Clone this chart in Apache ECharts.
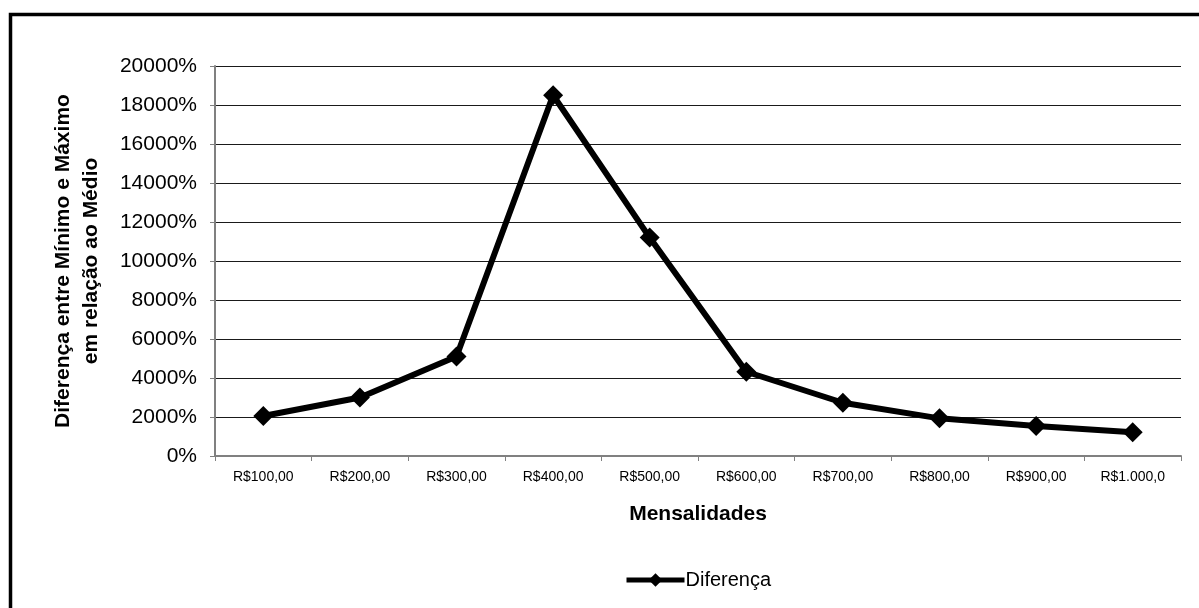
<!DOCTYPE html>
<html>
<head>
<meta charset="utf-8">
<script src="https://cdn.jsdelivr.net/npm/echarts@6/dist/echarts.min.js"></script>
<style>
  html, body { margin: 0; padding: 0; background: #fff; }
  #chart { width: 1199px; height: 608px; }
</style>
</head>
<body>
<div id="chart"></div>
<script>
// Monthly fee brackets
const mensalidades = ['R$100,00', 'R$200,00', 'R$300,00', 'R$400,00', 'R$500,00',
                      'R$600,00', 'R$700,00', 'R$800,00', 'R$900,00', 'R$1.000,0'];
// Spread between minimum and maximum relative to the average (percent)
const diferenca = [2050, 3000, 5100, 18500, 11200, 4320, 2730, 1930, 1540, 1215];

const FONT = "'Liberation Sans', Arial, Helvetica, sans-serif";

const chart = echarts.init(document.getElementById('chart'), null, { renderer: 'canvas' });

chart.setOption({
  backgroundColor: '#ffffff',
  animation: false,
  textStyle: { fontFamily: FONT, color: '#000' },
  graphic: [
    {
      type: 'rect',
      shape: { x: 10.5, y: 14.5, width: 2000, height: 2000 },
      style: { fill: 'none', stroke: '#000', lineWidth: 3.5 },
      silent: true
    }
  ],
  grid: { left: 215, right: 18, top: 66, bottom: 152 },
  legend: {
    data: ['Diferença'],
    left: 619,
    top: 565,
    itemWidth: 58,
    itemHeight: 17,
    itemGap: 10,
    lineStyle: { width: 5, color: '#000' },
    textStyle: { fontFamily: FONT, fontSize: 20, color: '#000', padding: [0, 0, 0, -4] }
  },
  xAxis: {
    type: 'category',
    data: mensalidades,
    boundaryGap: true,
    name: 'Mensalidades',
    nameLocation: 'middle',
    nameGap: 48,
    nameTextStyle: { fontFamily: FONT, fontSize: 21, fontWeight: 'bold', color: '#000' },
    axisLine: { show: true, lineStyle: { color: '#808080', width: 2 } },
    axisTick: { show: true, alignWithLabel: false, length: 5, lineStyle: { color: '#808080', width: 1 } },
    axisLabel: { interval: 0, margin: 14, fontSize: 14, fontFamily: FONT, color: '#000' },
    splitLine: { show: false }
  },
  yAxis: {
    type: 'value',
    min: 0,
    max: 20000,
    interval: 2000,
    name: 'Diferença entre Mínimo e Máximo\nem relação ao Médio',
    nameLocation: 'middle',
    nameGap: 110,
    nameTextStyle: { fontFamily: FONT, fontSize: 21, fontWeight: 'bold', color: '#000', lineHeight: 28 },
    axisLine: { show: true, lineStyle: { color: '#808080', width: 2 } },
    axisTick: { show: true, length: 5, lineStyle: { color: '#808080', width: 1 } },
    axisLabel: {
      formatter: function (v) { return String(v) + '%'; },
      margin: 18, fontSize: 21, fontFamily: FONT, color: '#000'
    },
    splitLine: { show: true, lineStyle: { color: '#1a1a1a', width: 1 } }
  },
  series: [
    {
      name: 'Diferença',
      type: 'line',
      data: diferenca,
      symbol: 'diamond',
      symbolSize: 20,
      showSymbol: true,
      lineStyle: { color: '#000', width: 6 },
      itemStyle: { color: '#000', borderWidth: 0 },
      emphasis: { disabled: true }
    }
  ]
});
</script>
</body>
</html>
